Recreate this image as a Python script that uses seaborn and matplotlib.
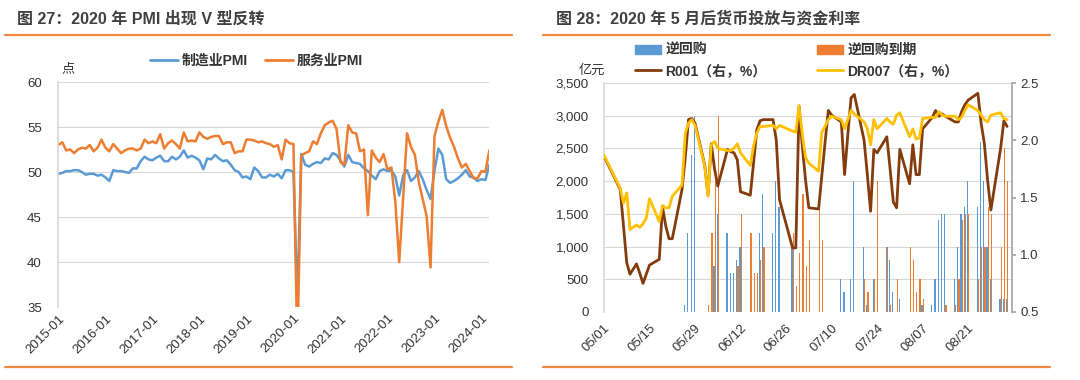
import numpy as np
import pandas as pd
import matplotlib
matplotlib.use("Agg")
import matplotlib.pyplot as plt
from matplotlib.lines import Line2D
from matplotlib.patches import Patch
from matplotlib.ticker import FuncFormatter
import seaborn as sns

# ---------------- data: PMI, monthly 2015-01 .. 2024-03 ----------------
months = pd.date_range("2015-01-01", "2024-03-01", freq="MS")
mfg_pmi = [
    49.8, 49.9, 50.1, 50.1, 50.2, 50.2, 50.0, 49.7, 49.8, 49.8, 49.6, 49.7,
    49.4, 49.0, 50.2, 50.1, 50.1, 50.0, 49.9, 50.4, 50.4, 51.2, 51.7, 51.4,
    51.3, 51.6, 51.8, 51.2, 51.2, 51.7, 51.4, 51.7, 52.4, 51.6, 51.8, 51.6,
    51.3, 50.3, 51.5, 51.4, 51.9, 51.5, 51.2, 51.3, 50.8, 50.2, 50.0, 49.4,
    49.5, 49.2, 50.5, 50.1, 49.4, 49.4, 49.7, 49.5, 49.8, 49.3, 50.2, 50.2,
    50.0, 35.7, 52.0, 50.8, 50.6, 50.9, 51.1, 51.0, 51.5, 51.4, 52.1, 51.9,
    51.3, 50.6, 51.9, 51.1, 51.0, 50.9, 50.4, 50.1, 49.6, 49.2, 50.1, 50.3,
    50.1, 50.2, 49.5, 47.4, 49.6, 50.2, 49.0, 49.4, 50.1, 49.2, 48.0, 47.0,
    50.1, 52.6, 51.9, 49.2, 48.8, 49.0, 49.3, 49.7, 50.2, 49.5, 49.4, 49.0,
    49.2, 49.1, 50.8,
]
svc_pmi = [
    53.0, 53.3, 52.4, 52.5, 52.1, 52.5, 52.7, 52.6, 53.0, 52.3, 52.7, 53.6,
    52.7, 52.3, 53.1, 52.6, 52.1, 52.4, 52.6, 52.6, 52.4, 52.6, 53.6, 53.2,
    53.4, 53.2, 54.2, 52.6, 53.2, 53.5, 53.1, 52.6, 54.4, 53.4, 53.5, 53.4,
    54.4, 53.9, 53.7, 53.9, 54.0, 54.0, 53.1, 53.3, 53.3, 52.1, 52.3, 52.3,
    53.6, 53.6, 53.5, 53.3, 53.4, 53.2, 53.1, 52.8, 53.0, 51.4, 53.6, 53.2,
    53.1, 30.1, 51.8, 52.1, 52.3, 53.4, 53.1, 54.3, 55.2, 55.5, 55.7, 54.8,
    51.1, 50.8, 55.2, 54.4, 54.3, 52.3, 52.5, 45.2, 52.4, 51.6, 51.1, 52.0,
    50.3, 50.5, 46.7, 40.0, 47.1, 54.3, 52.8, 51.9, 48.9, 47.0, 45.1, 39.4,
    54.0, 55.6, 56.9, 55.1, 53.8, 52.8, 51.5, 50.5, 50.9, 50.1, 49.3, 49.3,
    50.1, 50.0, 52.4,
]

# ---------------- data: 2020 open market ops & rates ----------------
trade_days = [
    "05-01", "05-06", "05-07", "05-08", "05-09", "05-11", "05-12", "05-13", "05-14", "05-15",
    "05-18", "05-19", "05-20", "05-21", "05-22", "05-25", "05-26", "05-27", "05-28", "05-29",
    "06-01", "06-02", "06-03", "06-04", "06-05", "06-08", "06-09", "06-10", "06-11", "06-12",
    "06-15", "06-16", "06-17", "06-18", "06-19", "06-22", "06-23", "06-24", "06-28", "06-29",
    "06-30", "07-01", "07-02", "07-03", "07-06", "07-07", "07-08", "07-09", "07-10", "07-13",
    "07-14", "07-15", "07-16", "07-17", "07-20", "07-21", "07-22", "07-23", "07-24", "07-27",
    "07-28", "07-29", "07-30", "07-31", "08-03", "08-04", "08-05", "08-06", "08-07", "08-10",
    "08-11", "08-12", "08-13", "08-14", "08-17", "08-18", "08-19", "08-20", "08-21", "08-24",
    "08-25", "08-26", "08-27", "08-28", "08-31", "09-01", "09-02",
]
r001 = [
    1.86, 1.57, 1.25, 0.93, 0.83, 0.92, 0.84, 0.75, 0.83, 0.91,
    0.96, 1.42, 1.25, 1.14, 1.14, 1.57, 1.85, 2.18, 2.19, 2.15,
    1.78, 1.52, 1.97, 1.75, 1.60, 1.92, 1.90, 1.89, 1.83, 1.55,
    1.52, 1.80, 2.09, 2.17, 2.18, 2.18, 2.00, 1.48, 1.06, 1.06,
    2.30, 1.95, 1.65, 1.41, 1.40, 1.69, 1.98, 2.26, 2.22, 2.16,
    1.70, 2.05, 2.37, 2.40, 2.00, 1.70, 1.38, 1.92, 1.89, 2.03,
    1.75, 1.46, 1.41, 1.92, 1.62, 1.96, 1.70, 1.70, 2.10, 2.20,
    2.26, 2.21, 2.23, 2.21, 2.16, 2.16, 2.25, 2.31, 2.35, 2.41,
    2.15, 1.97, 1.65, 1.39, 1.93, 2.17, 2.12,
]
dr007 = [
    1.87, 1.58, 1.45, 1.54, 1.22, 1.26, 1.24, 1.27, 1.32, 1.49,
    1.29, 1.43, 1.41, 1.41, 1.51, 1.61, 2.06, 2.15, 2.18, 2.13,
    1.77, 1.51, 1.96, 1.99, 1.93, 1.91, 1.91, 1.93, 1.97, 1.89,
    1.78, 1.95, 2.06, 2.12, 2.12, 2.13, 2.10, 2.13, 2.08, 2.07,
    2.30, 2.05, 1.85, 1.80, 1.73, 2.07, 2.12, 2.18, 2.21, 2.18,
    2.10, 2.18, 2.26, 2.23, 2.16, 2.10, 1.96, 2.18, 2.10, 2.19,
    2.16, 2.14, 2.22, 2.24, 2.03, 2.10, 2.01, 2.02, 2.19, 2.20,
    2.20, 2.25, 2.22, 2.21, 2.21, 2.18, 2.20, 2.26, 2.31, 2.26,
    2.22, 2.18, 2.16, 2.22, 2.24, 2.19, 2.18,
]
repo_days = [
    "05-26", "05-27", "05-28", "05-29", "06-04", "06-05", "06-08", "06-09", "06-10", "06-11",
    "06-12", "06-18", "06-19", "06-22", "06-23", "06-24", "06-28", "07-13", "07-14", "07-16",
    "07-17", "07-20", "07-21", "07-23", "07-27", "07-28", "07-29", "07-31", "08-07", "08-10",
    "08-11", "08-12", "08-13", "08-14", "08-17", "08-18", "08-19", "08-20", "08-21", "08-24",
    "08-25", "08-26", "08-27", "08-28", "08-31", "09-01", "09-02",
]
repo_amt = [
    100, 1200, 2400, 3000, 700, 1500, 1200, 600, 600, 800,
    1000, 1200, 1800, 1200, 2000, 1600, 1000, 500, 300, 500,
    2000, 1000, 100, 500, 1000, 800, 300, 200, 100, 100,
    500, 1400, 1500, 1500, 500, 1000, 1500, 1600, 2000, 1600,
    2600, 2000, 1000, 500, 200, 200, 200,
]
mature_days = [
    "06-02", "06-03", "06-04", "06-05", "06-11", "06-12", "06-15", "06-16", "06-17", "06-18",
    "06-19", "06-28", "06-29", "06-30", "07-01", "07-02", "07-03", "07-06", "07-07", "07-20",
    "07-21", "07-23", "07-24", "07-27", "07-28", "07-30", "08-03", "08-04", "08-05", "08-06",
    "08-07", "08-14", "08-17", "08-18", "08-19", "08-20", "08-21", "08-24", "08-25", "08-26",
    "08-27", "08-28", "08-31", "09-01", "09-02",
]
mature_amt = [
    100, 1200, 2000, 3000, 700, 1500, 1200, 600, 600, 800,
    1000, 1200, 400, 900, 1800, 700, 1100, 1600, 1100, 500,
    300, 500, 2000, 1000, 100, 500, 1000, 800, 300, 500,
    200, 100, 100, 500, 1400, 1500, 1500, 500, 1000, 1000,
    1600, 1500, 1000, 2500, 2000,
]

# ---------------- style ----------------
sns.set_theme(style="white")
plt.rcParams["font.family"] = ["Liberation Sans", "Noto Sans CJK SC"]
plt.rcParams["axes.unicode_minus"] = False

TXT = "#404040"
GRID = "#D9D9D9"
RULE = "#F0883E"
BLUE = "#5B9BD5"
ORANGE = "#ED7D31"
BROWN = "#843C0C"
GOLD = "#FFC000"

W, H = 1080, 380
fig = plt.figure(figsize=(W / 100, H / 100), dpi=100)


def box(x0, y0, x1, y1):
    return [x0 / W, 1 - y1 / H, (x1 - x0) / W, (y1 - y0) / H]


def hrule(x0, x1, y):
    fig.add_artist(Line2D([x0 / W, x1 / W], [1 - y / H] * 2, color=RULE, lw=1.6,
                          transform=fig.transFigure))


title_kw = dict(fontsize=11.5, fontweight="bold", color=TXT, ha="left", va="center")
fig.text(17 / W, 1 - 19 / H, "图 27：2020 年 PMI 出现 V 型反转", **title_kw)
fig.text(556 / W, 1 - 19 / H, "图 28：2020 年 5 月后货币投放与资金利率", **title_kw)
for x0, x1 in [(5, 512), (543, 1050)]:
    hrule(x0, x1, 34.5)
    hrule(x0, x1, 367)

leg_font = dict(size=10, weight="bold")

# ---------------- left: PMI ----------------
ax1 = fig.add_axes(box(58.4, 82, 489.3, 307))
xm = np.arange(len(months))
sns.lineplot(x=xm, y=mfg_pmi, ax=ax1, color=BLUE, lw=1.8, legend=False)
sns.lineplot(x=xm, y=svc_pmi, ax=ax1, color=ORANGE, lw=1.8, legend=False)
ax1.set_xlim(0, len(xm) - 1)
ax1.set_ylim(35, 60)
ax1.set_yticks(range(35, 61, 5))
ax1.set_xticks(xm[::12])
ax1.set_xticklabels([m.strftime("%Y-%m") for m in months[::12]],
                    rotation=45, ha="right", va="top", rotation_mode="anchor")
ax1.grid(axis="y", color=GRID, lw=0.8)
ax1.set_axisbelow(True)
for s in ["top", "right", "bottom"]:
    ax1.spines[s].set_visible(False)
ax1.spines["left"].set_color(GRID)
ax1.tick_params(axis="y", length=0, pad=12, labelsize=9.5, colors="#333333")
ax1.tick_params(axis="x", length=0, pad=4, labelsize=9.5, colors="#333333")
ax1.set_xlabel("")
ax1.set_ylabel("")

fig.text(68 / W, 1 - 69 / H, "点", fontsize=9.5, color="#333333", ha="center", va="center")
fig.legend([Line2D([], [], color=BLUE, lw=2), Line2D([], [], color=ORANGE, lw=2)],
           ["制造业PMI", "服务业PMI"], loc="center left",
           bbox_to_anchor=(150 / W, 1 - 61 / H), ncol=2, frameon=False,
           borderpad=0, borderaxespad=0, handlelength=2.0, handletextpad=0.3,
           columnspacing=1.2, prop=leg_font, labelcolor="#333333")

# ---------------- right: OMO & rates ----------------
start = pd.Timestamp("2020-05-01")


def day_offset(days):
    return np.array([(pd.Timestamp("2020-" + d) - start).days for d in days], dtype=float)


xd = day_offset(trade_days)
ax2 = fig.add_axes(box(604, 83, 1012, 312))
axr = ax2.twinx()
ax2.bar(day_offset(repo_days) - 0.2, repo_amt, width=0.38, color=BLUE, lw=0)
ax2.bar(day_offset(mature_days) + 0.2, mature_amt, width=0.38, color=ORANGE, lw=0)
sns.lineplot(x=xd, y=r001, ax=axr, color=BROWN, lw=2.0, legend=False)
sns.lineplot(x=xd, y=dr007, ax=axr, color=GOLD, lw=2.0, legend=False)

ax2.set_xlim(0, 125.5)
ax2.set_ylim(0, 3500)
axr.set_ylim(0.5, 2.5)
ax2.set_yticks(range(0, 3501, 500))
ax2.yaxis.set_major_formatter(FuncFormatter(lambda v, _: f"{int(v):,}"))
axr.set_yticks([0.5, 1.0, 1.5, 2.0, 2.5])
axr.yaxis.set_major_formatter(FuncFormatter(lambda v, _: f"{v:.1f}"))
tick_days = np.arange(0, 113, 14)
ax2.set_xticks(tick_days)
ax2.set_xticklabels([(start + pd.Timedelta(days=int(d))).strftime("%m/%d") for d in tick_days],
                    rotation=45, ha="right", va="top", rotation_mode="anchor")
ax2.grid(axis="y", color=GRID, lw=0.8)
ax2.set_axisbelow(True)
for a in (ax2, axr):
    for s in ["top", "bottom"]:
        a.spines[s].set_visible(False)
    a.set_xlabel("")
    a.set_ylabel("")
ax2.spines["right"].set_visible(False)
ax2.spines["left"].set_color(GRID)
axr.spines["left"].set_visible(False)
axr.spines["right"].set_color("#A6A6A6")
ax2.tick_params(axis="y", length=0, pad=11, labelsize=9.5, colors="#333333")
ax2.tick_params(axis="x", length=3, color=GRID, pad=4, labelsize=9.5, colors="#333333")
axr.tick_params(axis="y", length=3, color="#A6A6A6", pad=3, labelsize=9.5, colors="#333333")

fig.text(592 / W, 1 - 71 / H, "亿元", fontsize=9.5, color="#333333", ha="center", va="center")
fig.legend([Patch(color=BLUE), Line2D([], [], color=BROWN, lw=2),
            Patch(color=ORANGE), Line2D([], [], color=GOLD, lw=2)],
           ["逆回购", "R001（右，%）", "逆回购到期", "DR007（右，%）"],
           loc="center left", bbox_to_anchor=(635 / W, 1 - 60.5 / H), ncol=2,
           frameon=False, borderpad=0, borderaxespad=0, handlelength=1.9,
           handleheight=0.6, handletextpad=0.3, columnspacing=3.6, labelspacing=0.5,
           prop=leg_font, labelcolor="#333333")

fig.savefig("out.png", dpi=100, facecolor="white")
